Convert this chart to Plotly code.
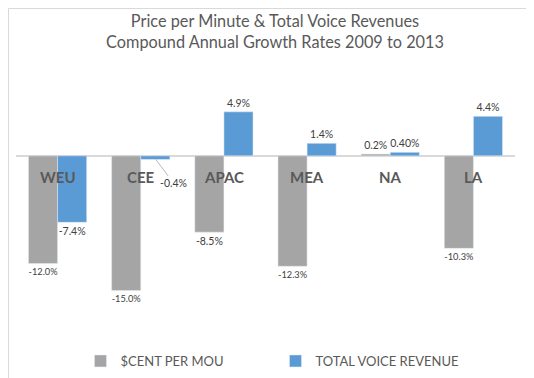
import plotly.graph_objects as go

regions = ["WEU", "CEE", "APAC", "MEA", "NA", "LA"]
cent_per_mou = [-12.0, -15.0, -8.5, -12.3, 0.2, -10.3]
voice_revenue = [-7.4, -0.4, 4.9, 1.4, 0.4, 4.4]
cent_labels = ["-12.0%", "-15.0%", "-8.5%", "-12.3%", "0.2%", "-10.3%"]
voice_labels = ["-7.4%", "", "4.9%", "1.4%", "0.40%", "4.4%"]

W, H = 534, 378
ML, MR, MT, MB = 8, 27, 85, 73
FONT = "Lato"
GRAY = "#A5A5A5"
BLUE = "#5B9BD5"
TXT = "#595959"

fig = go.Figure()
fig.add_trace(go.Bar(
    x=regions, y=cent_per_mou, name="$CENT PER MOU", marker_color=GRAY,
    text=cent_labels, textposition="outside", cliponaxis=False,
    textfont=dict(size=10.5, color="#404040", family=FONT),
))
fig.add_trace(go.Bar(
    x=regions, y=voice_revenue, name="TOTAL VOICE REVENUE", marker_color=BLUE,
    text=voice_labels, textposition="outside", cliponaxis=False,
    textfont=dict(size=10.5, color="#404040", family=FONT),
))

annotations = []
for r in regions:
    annotations.append(dict(
        x=r, y=0, xref="x", yref="y", text="<b>%s</b>" % r, showarrow=False,
        yanchor="middle", yshift=-21, font=dict(size=15, color=TXT, family=FONT),
    ))
# offset label with leader line for CEE revenue
i = regions.index("CEE")
annotations.append(dict(
    x=regions[i], y=voice_revenue[i], xref="x", yref="y", xshift=15,
    text="%.1f%%" % voice_revenue[i], showarrow=True,
    arrowhead=0, arrowwidth=0.8, arrowcolor="#A6A6A6", ax=18, ay=24,
    font=dict(size=10.5, color="#404040", family=FONT),
))

fig.update_layout(
    width=W, height=H,
    margin=dict(l=ML, r=MR, t=MT, b=MB),
    paper_bgcolor="white", plot_bgcolor="white",
    title=dict(
        text="Price per Minute & Total Voice Revenues<br>Compound Annual Growth Rates 2009 to 2013",
        x=0.5, xanchor="center", y=0.95, yanchor="top",
        font=dict(size=16.3, color=TXT, family=FONT),
    ),
    barmode="group", bargap=0.3, bargroupgap=0,
    xaxis=dict(showticklabels=False, showgrid=False, zeroline=False, showline=False, ticks=""),
    yaxis=dict(range=[-17.5, 7], showticklabels=False, showgrid=False,
               zeroline=True, zerolinecolor="#D9D9D9", zerolinewidth=1.5),
    showlegend=True,
    legend=dict(orientation="h", x=0.52, xanchor="center", y=-0.15, yanchor="top",
                font=dict(size=13, color=TXT, family=FONT), entrywidth=150,
                itemwidth=30),
    annotations=annotations,
    font=dict(family=FONT),
)

pw = W - ML - MR
ph = H - MT - MB
fig.add_shape(type="rect", xref="paper", yref="paper",
              x0=(-ML + 0.5) / pw, x1=1 + (MR - 0.5) / pw,
              y0=(-MB + 0.5) / ph, y1=1 + (MT - 0.5) / ph,
              line=dict(color="#D9D9D9", width=1), layer="below")

fig.write_html("out.html")
